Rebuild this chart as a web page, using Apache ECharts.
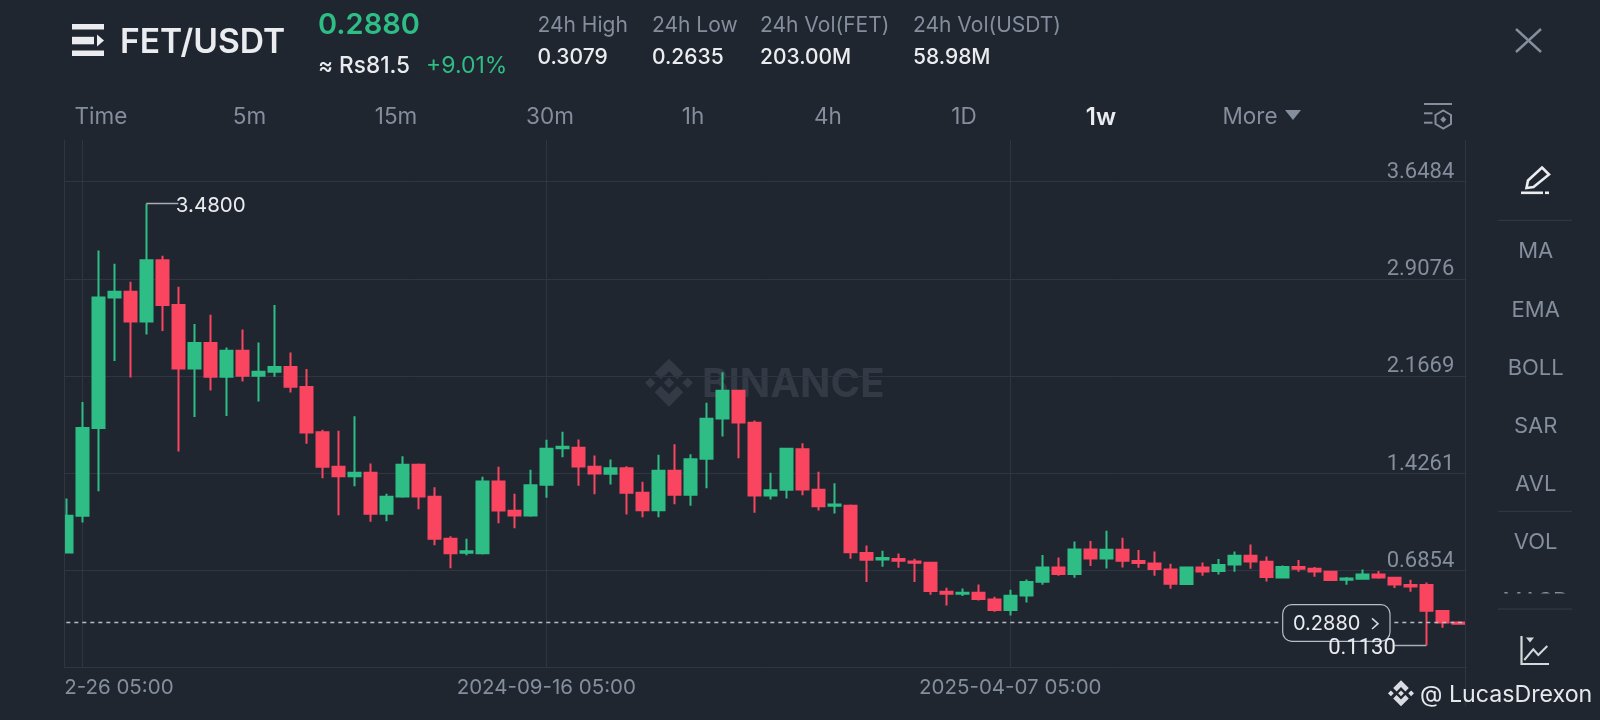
<!DOCTYPE html>
<html>
<head>
<meta charset="utf-8">
<style>html,body{margin:0;padding:0;background:#1F2630}#c{width:1600px;height:720px}</style>
<script src="https://cdn.jsdelivr.net/npm/echarts@6/dist/echarts.min.js"></script>
</head>
<body>
<div id="c"></div>
<script>
const categories = ['2024-02-19','2024-02-26','2024-03-04','2024-03-11','2024-03-18','2024-03-25','2024-04-01','2024-04-08','2024-04-15','2024-04-22','2024-04-29','2024-05-06','2024-05-13','2024-05-20','2024-05-27','2024-06-03','2024-06-10','2024-06-17','2024-06-24','2024-07-01','2024-07-08','2024-07-15','2024-07-22','2024-07-29','2024-08-05','2024-08-12','2024-08-19','2024-08-26','2024-09-02','2024-09-09','2024-09-16','2024-09-23','2024-09-30','2024-10-07','2024-10-14','2024-10-21','2024-10-28','2024-11-04','2024-11-11','2024-11-18','2024-11-25','2024-12-02','2024-12-09','2024-12-16','2024-12-23','2024-12-30','2025-01-06','2025-01-13','2025-01-20','2025-01-27','2025-02-03','2025-02-10','2025-02-17','2025-02-24','2025-03-03','2025-03-10','2025-03-17','2025-03-24','2025-03-31','2025-04-07','2025-04-14','2025-04-21','2025-04-28','2025-05-05','2025-05-12','2025-05-19','2025-05-26','2025-06-02','2025-06-09','2025-06-16','2025-06-23','2025-06-30','2025-07-07','2025-07-14','2025-07-21','2025-07-28','2025-08-04','2025-08-11','2025-08-18','2025-08-25','2025-09-01','2025-09-08','2025-09-15','2025-09-22','2025-09-29','2025-10-06','2025-10-13','2025-10-20'];
const opens = [0.8216,1.1010,1.7697,2.7654,2.8085,2.5825,3.0498,2.7069,2.2243,2.4174,2.1608,2.3590,2.1685,2.1989,2.2345,2.0821,1.7385,1.4744,1.4032,1.4286,1.1162,1.2483,1.4896,1.2458,0.9257,0.8190,0.8165,1.3626,1.1391,1.1035,1.3372,1.6166,1.6191,1.4744,1.4210,1.4642,1.2762,1.1442,1.4439,1.2610,1.5353,1.8427,2.0535,1.8096,1.2559,1.2991,1.6090,1.2991,1.1772,1.1772,0.8175,0.7692,0.7718,0.7540,0.7438,0.5228,0.5076,0.5152,0.4644,0.3831,0.4949,0.5990,0.7083,0.6575,0.8454,0.7768,0.8429,0.7565,0.7387,0.6930,0.5813,0.7083,0.6803,0.7311,0.7972,0.7514,0.6321,0.7108,0.6981,0.6752,0.6143,0.6219,0.6549,0.6295,0.5736,0.5736,0.3755,0.2880];
const closes = [1.1010,1.7697,2.7654,2.8085,2.5825,3.0498,2.7069,2.2243,2.4174,2.1608,2.3590,2.1685,2.1989,2.2345,2.0846,1.7367,1.4744,1.4032,1.4286,1.1162,1.2458,1.4896,1.2483,0.9257,0.8165,0.8317,1.3626,1.1416,1.1035,1.3347,1.6115,1.6268,1.4769,1.4236,1.4642,1.2762,1.1442,1.4439,1.2610,1.5328,1.8401,2.0535,1.8122,1.2559,1.2966,1.6115,1.3016,1.1746,1.1873,0.8241,0.7667,0.7794,0.7591,0.7438,0.5279,0.5076,0.5152,0.4670,0.3831,0.4924,0.5965,0.7083,0.6575,0.8454,0.7768,0.8429,0.7591,0.7413,0.6956,0.5838,0.7083,0.6778,0.7260,0.7972,0.7540,0.6346,0.7108,0.6981,0.6778,0.6117,0.6244,0.6549,0.6321,0.5787,0.5635,0.3781,0.2892,0.2790];
const lows = [0.8216,1.0502,1.2889,2.2802,2.1558,2.4834,2.5088,1.5919,1.8535,2.0567,1.8611,2.1253,1.9729,2.1608,2.0415,1.6503,1.3880,1.1061,1.3270,1.0553,1.0603,1.2381,1.1518,0.8775,0.7022,0.8013,0.8063,1.0451,1.0070,1.0934,1.2381,1.5480,1.3296,1.2661,1.3397,1.1111,1.0908,1.0908,1.1899,1.1772,1.3118,1.7055,1.5404,1.1238,1.2254,1.2331,1.2585,1.1416,1.1188,0.7733,0.5965,0.7133,0.7057,0.5965,0.4998,0.4187,0.4898,0.4568,0.3704,0.3425,0.4416,0.5762,0.6448,0.6295,0.7184,0.7006,0.7083,0.7057,0.6448,0.5457,0.5736,0.6448,0.6549,0.6752,0.6981,0.6016,0.6244,0.6752,0.6371,0.6067,0.5762,0.6219,0.6219,0.5508,0.5228,0.1130,0.2485,0.2760];
const highs = [1.2331,1.9678,3.1235,3.0219,2.8847,3.4800,3.0829,2.8466,2.5622,2.6333,2.3844,2.5215,2.4225,2.7069,2.3463,2.2193,1.7563,1.7487,1.8604,1.4998,1.2686,1.5556,1.4998,1.3194,0.9460,0.9257,1.3982,1.4744,1.2686,1.4515,1.6801,1.7411,1.6826,1.5607,1.5302,1.4794,1.3601,1.5658,1.6471,1.5709,1.9620,2.1957,2.0535,1.8274,1.4286,1.6191,1.6547,1.4363,1.3499,1.1873,0.8759,0.8353,0.8149,0.7743,0.7464,0.5533,0.5482,0.5787,0.4847,0.5381,0.6168,0.8022,0.7845,0.9064,0.9089,0.9877,0.9343,0.8403,0.8302,0.7362,0.7159,0.7464,0.7718,0.8302,0.8835,0.7921,0.7235,0.7641,0.7108,0.6829,0.6346,0.6930,0.6803,0.6295,0.6143,0.5940,0.3831,0.2980];
const priceTicks = [0.6854,1.4261,2.1669,2.9076,3.6484];
const dateTicks = ['2024-02-26','2024-09-16','2025-04-07'];
const lastPrice = 0.2880;
const peak = {date:'2024-03-25', labelDate:'2024-04-08', value:3.4800};
const trough = {date:'2025-10-06', labelDate:'2025-09-22', value:0.1130};
const headerTabs = [['Time',101],['5m',249.5],['15m',396],['30m',550],['1h',693],['4h',828],['1D',964],['More',1250]];
const stats = [['24h High','0.3079',537.5],['24h Low','0.2635',652],['24h Vol(FET)','203.00M',760],['24h Vol(USDT)','58.98M',913]];
const sideItems = [['MA',251.7],['EMA',310],['BOLL',368],['SAR',426],['AVL',484.3],['VOL',542.7],['MACD',601]];

const BG='#1F2630', GRID='#2F3641', MUTED='#848E9C', WHITE='#EAECEF', UP='#2EBD85', DOWN='#FA4560';
const FONT='Inter';
function txt(text,x,y,size,fill,weight,align,z){
  return {type:'text',z:z==null?50:z,silent:true,style:{text:text,x:x,y:y,fill:fill,
    font:(weight||400)+' '+size+'px '+FONT,textAlign:align||'left',align:align||'left',
    textVerticalAlign:'middle',verticalAlign:'middle'}};
}
function poly(points,fill,z){return {type:'polygon',z:z==null?50:z,silent:true,shape:{points:points},style:{fill:fill}};}
function rect(x,y,w,h,fill,z){return {type:'rect',z:z==null?50:z,silent:true,shape:{x:x,y:y,width:w,height:h},style:{fill:fill}};}
function line(x1,y1,x2,y2,col,w,z){return {type:'line',z:z==null?50:z,silent:true,shape:{x1:x1,y1:y1,x2:x2,y2:y2},style:{stroke:col,lineWidth:w||1}};}
function pline(points,col,w,z){return {type:'polyline',z:z==null?50:z,silent:true,shape:{points:points},style:{stroke:col,lineWidth:w||1,fill:'none'}};}
function logo(cx,cy,r,fill,z){
  const P=a=>a.map(p=>[cx+p[0]*r,cy+p[1]*r]);
  const d=(x,y,s)=>poly(P([[x,y-s],[x+s,y],[x,y+s],[x-s,y]]),fill,z);
  return [
    d(0,0,.22),d(-.78,0,.22),d(.78,0,.22),
    poly(P([[0,-1],[.6,-.4],[.34,-.14],[0,-.48],[-.34,-.14],[-.6,-.4]]),fill,z),
    poly(P([[0,1],[.6,.4],[.34,.14],[0,.48],[-.34,.14],[-.6,.4]]),fill,z)
  ];
}
const g=[];
// watermark (behind the marks)
g.push(...logo(669,382.7,24,'#333A45',0));
g.push(txt('BINANCE',702,384.5,40,'#333A45',700,'left',0));
// left clip of plot
g.push(rect(0,130,64.5,590,BG,40));
g.push(line(64.5,140,64.5,668,GRID,1,41));
g.push(line(1465.5,140,1465.5,706,GRID,1,41));
// header
g.push(rect(72,24,32,5.5,WHITE),rect(72,36.8,22,7.5,WHITE),rect(72,50.5,32,5.5,WHITE));
g.push(poly([[97,34.5],[104,40.5],[97,46.5]],WHITE));
g.push(txt('FET/USDT',120,42.5,33.6,WHITE,600));
g.push(txt('0.2880',318,25.5,29,UP,600));
g.push(txt('≈ Rs81.5',318,66,22.6,WHITE,500));
g.push(txt('+9.01%',426,66,23,UP,400));
stats.forEach(s=>{g.push(txt(s[0],s[2],26,21,MUTED,400));g.push(txt(s[1],s[2],57.5,21,WHITE,500));});
headerTabs.forEach(t=>g.push(txt(t[0],t[1],117.5,22.5,MUTED,400,'center')));
g.push(txt('1w',1101,117.5,24,WHITE,600,'center'));
g.push(poly([[1285,110],[1301,110],[1293,120]],MUTED));
g.push(line(1516,29,1541,52,MUTED,2.4),line(1541,29,1516,52,MUTED,2.4));
// settings icon
g.push(line(1424,104,1452,104,MUTED,2),line(1424,113.3,1432.5,113.3,MUTED,2),line(1424,122.7,1432.5,122.7,MUTED,2));
g.push({type:'polygon',z:50,silent:true,shape:{points:[[1443.3,110.5],[1451,115],[1451,124],[1443.3,128.5],[1435.5,124],[1435.5,115]]},style:{stroke:MUTED,lineWidth:2,fill:'none'}});
g.push(poly([[1443.3,116.3],[1446.3,119.5],[1443.3,122.7],[1440.3,119.5]],MUTED));
// pencil
g.push({type:'polygon',z:50,silent:true,shape:{points:[[1542,167.5],[1549,174.5],[1533.5,187],[1526.5,188],[1528,180.5]]},style:{stroke:WHITE,lineWidth:2.6,fill:'none'}});
g.push(line(1521,192.8,1543,192.8,WHITE,2.6),line(1545,192.8,1549,192.8,WHITE,2.6));
// side panel
[220.3,511.3,609].forEach(y=>g.push(line(1498,y,1572,y,GRID,1.2)));
sideItems.forEach(s=>g.push(txt(s[0],1535.7,s[1],22,MUTED,400,'center')));
g.push(rect(1490,593.4,90,15,BG,51));
g.push(line(1498,609,1572,609,GRID,1.2,52));
// chart icon
g.push(pline([[1521.5,636],[1521.5,664],[1549,664]],'#D5D8DC',2.2));
g.push(poly([[1526,637.5],[1534,637.5],[1530,642.5]],'#D5D8DC'));
g.push(pline([[1524.3,660],[1533.3,649.3],[1538.3,655],[1547.3,646]],'#D5D8DC',2));
// price tag
g.push({type:'rect',z:45,silent:true,shape:{x:1282.7,y:604.7,width:107.3,height:36.6,r:9},style:{fill:BG,stroke:'#B7BDC6',lineWidth:1.2}});
g.push(txt('0.2880',1293,623.5,20,WHITE,400,'left',46));
g.push(pline([[1372,618.3],[1378,623.7],[1372,629]],'#D5D8DC',1.6,46));
// credit
g.push(...logo(1401,693.3,13,'#D9DCE1',60));
g.push(txt('@ LucasDrexon',1420,695,23.2,'#E6E8EB',400,'left',60));

const chart=echarts.init(document.getElementById('c'),null,{renderer:'canvas',width:1600,height:720});
const showDate=(i,v)=>dateTicks.includes(v);
chart.setOption({
  animation:false,
  backgroundColor:BG,
  textStyle:{fontFamily:FONT},
  grid:{left:58.3,top:140,width:1408,height:527.6,containLabel:false,outerBoundsMode:'none'},
  xAxis:{type:'category',data:categories,boundaryGap:true,
    axisLine:{show:true,onZero:false,lineStyle:{color:GRID,width:1}},
    axisTick:{show:false},
    axisLabel:{interval:showDate,color:MUTED,fontFamily:FONT,fontSize:20.5,margin:10,formatter:v=>v+' 05:00'},
    splitLine:{show:true,interval:showDate,alignWithLabel:true,lineStyle:{color:GRID,width:1}}},
  yAxis:{type:'value',position:'right',min:-0.0553,max:3.9652,scale:false,
    axisLine:{show:false},
    axisTick:{show:false,customValues:priceTicks},
    axisLabel:{inside:true,customValues:priceTicks,color:MUTED,fontFamily:'Roboto',fontSize:22,margin:12,verticalAlign:'bottom',lineHeight:18,formatter:v=>Number(v).toFixed(4)},
    splitLine:{show:true,lineStyle:{color:GRID,width:1}}},
  series:[{type:'candlestick',barWidth:12,
    data:categories.map((c,i)=>[opens[i],closes[i],lows[i],highs[i]]),
    itemStyle:{color:UP,color0:DOWN,borderColor:UP,borderColor0:DOWN,borderWidth:2},
    markLine:{silent:true,symbol:'none',animation:false,label:{show:false},data:[
      {yAxis:lastPrice,lineStyle:{color:'#B7BDC6',type:[4,4],width:1.3}},
      [{coord:[peak.date,peak.value],lineStyle:{color:'#A9AEB6',type:'solid',width:1.3}},{coord:[peak.labelDate,peak.value]}],
      [{coord:[trough.date,trough.value],lineStyle:{color:'#A9AEB6',type:'solid',width:1.3}},{coord:[trough.labelDate,trough.value]}]
    ]},
    markPoint:{silent:true,z:60,animation:false,symbol:'circle',symbolSize:1,itemStyle:{color:'transparent'},data:[
      {coord:[peak.labelDate,peak.value],value:peak.value,label:{show:true,position:'right',distance:0,offset:[-3,2],color:WHITE,fontFamily:FONT,fontSize:20.5,formatter:p=>peak.value.toFixed(4)}},
      {coord:[trough.labelDate,trough.value],value:trough.value,label:{show:true,position:'left',distance:0,offset:[2,2.5],color:WHITE,fontFamily:'Roboto',fontSize:22,formatter:p=>trough.value.toFixed(4)}}
    ]}
  }],
  graphic:{elements:g}
});
</script>
</body>
</html>
